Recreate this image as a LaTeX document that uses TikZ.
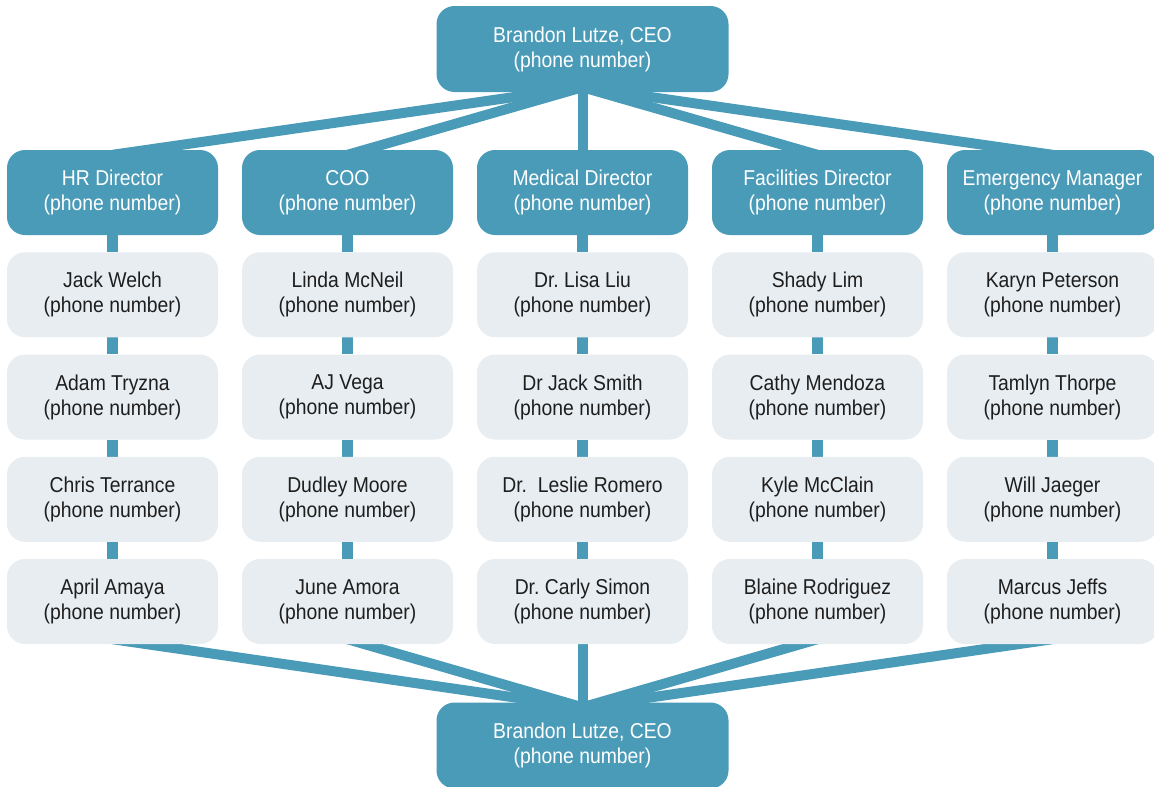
\documentclass[tikz,border=0pt]{standalone}
\usepackage{fontspec}
\setmainfont{Liberation Sans}[FakeStretch=0.9]
\frenchspacing
\usetikzlibrary{backgrounds}
\definecolor{orgteal}{HTML}{4A9BB8}
\definecolor{orggrey}{HTML}{E8EDF1}
\definecolor{orgtext}{HTML}{1E1E1E}
\tikzset{
  box/.style={rounded corners=18pt, minimum width=211pt, minimum height=85pt,
    align=center, inner sep=0pt, font=\fontsize{21.5}{25}\selectfont},
  tealbox/.style={box, fill=orgteal, text=white},
  greybox/.style={box, fill=orggrey, text=orgtext},
  ceobox/.style={tealbox, minimum width=292pt, minimum height=86pt},
  vlink/.style={draw=orgteal, line width=11pt},
  fan/.style={draw=orgteal, line width=10pt},
}
\begin{document}
\begin{tikzpicture}[x=1pt,y=1pt]
\useasboundingbox (0,0) rectangle (1154,-787);
\node[ceobox] (ceo) at (582.5,-49) {Brandon Lutze, CEO\\(phone number)};
\node[ceobox] (ceob) at (582.5,-745.5) {Brandon Lutze, CEO\\(phone number)};
\foreach \c/\t in {1/HR Director, 2/COO, 3/Medical Director, 4/Facilities Director, 5/Emergency Manager} {
  \pgfmathsetmacro\xx{112.5+235*(\c-1)}
  \node[tealbox] (d\c) at (\xx,-192.5) {\t\\(phone number)};
}
\foreach \c/\r/\t in {
  1/1/Jack Welch, 1/2/Adam Tryzna, 1/3/Chris Terrance, 1/4/April Amaya,
  2/1/Linda McNeil, 2/2/AJ Vega, 2/3/Dudley Moore, 2/4/June Amora,
  3/1/Dr. Lisa Liu, 3/2/Dr Jack Smith, 3/3/Dr.\ \ Leslie Romero, 3/4/Dr. Carly Simon,
  4/1/Shady Lim, 4/2/Cathy Mendoza, 4/3/Kyle McClain, 4/4/Blaine Rodriguez,
  5/1/Karyn Peterson, 5/2/Tamlyn Thorpe, 5/3/Will Jaeger, 5/4/Marcus Jeffs} {
  \pgfmathsetmacro\xx{112.5+235*(\c-1)}
  \pgfmathsetmacro\yy{-192.5-102.25*\r}
  \node[greybox] (p\c\r) at (\xx,\yy) {\t\\(phone number)};
}
\begin{pgfonlayer}{background}
\foreach \c in {1,...,5} {
  \draw[fan] ([yshift=5pt]ceo.south) -- ([yshift=-5pt]d\c.north);
  \draw[vlink] (d\c) -- (p\c1);
  \draw[vlink] (p\c1) -- (p\c2);
  \draw[vlink] (p\c2) -- (p\c3);
  \draw[vlink] (p\c3) -- (p\c4);
  \draw[fan] ([yshift=5pt]p\c4.south) -- ([yshift=-5pt]ceob.north);
}
\end{pgfonlayer}
\end{tikzpicture}
\end{document}
